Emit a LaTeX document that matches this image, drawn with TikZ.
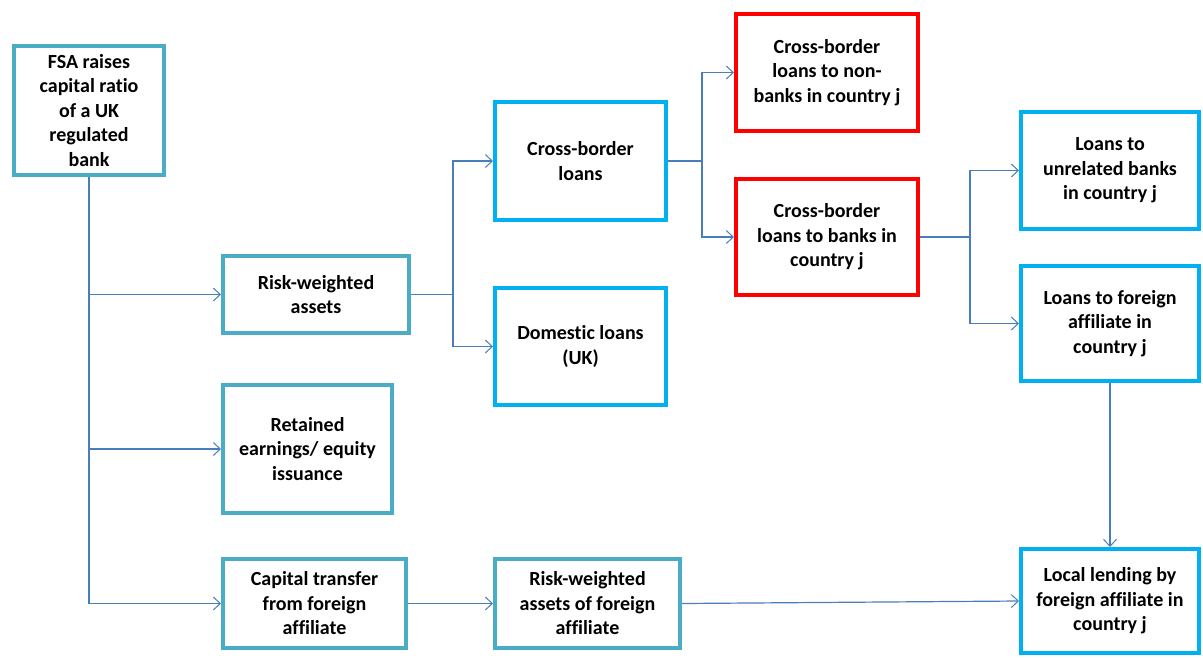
\documentclass[tikz,border=0pt]{standalone}
\usepackage{fontspec}
\setmainfont{Carlito}[RawFeature=-liga]
\usetikzlibrary{arrows.meta,calc}
\definecolor{tealb}{HTML}{4BACC6}
\definecolor{cyanb}{HTML}{00B0F0}
\definecolor{redb}{HTML}{FF0000}
\definecolor{conn}{HTML}{4A7EBB}
\begin{document}
\begin{tikzpicture}[x=1pt,y=-1pt,
  box/.style={draw,line width=4pt,fill=white,align=center,inner sep=2pt,
    font=\fontsize{20}{24.5}\selectfont\bfseries},
  tbox/.style={box,draw=tealb},
  cbox/.style={box,draw=cyanb},
  rbox/.style={box,draw=redb},
  arr/.style={draw=conn,line width=1.2pt,-{Straight Barb[length=7pt,width=13pt,line width=1pt]}},
  ln/.style={draw=conn,line width=1.2pt}]
\useasboundingbox (0,0) rectangle (1203,657);
\node[tbox,minimum width=150pt,minimum height=129pt] (fsa) at (89,110.5) {FSA raises\\capital ratio\\of a UK\\regulated\\bank};
\node[tbox,minimum width=186pt,minimum height=77pt] (rwa) at (316,294.5) {Risk-weighted\\assets};
\node[tbox,minimum width=169pt,minimum height=128pt] (ret) at (307.5,449) {Retained\\earnings/ equity\\issuance};
\node[tbox,minimum width=183pt,minimum height=89pt] (cap) at (314.5,603.5) {Capital transfer\\from foreign\\affiliate};
\node[tbox,minimum width=185pt,minimum height=89pt] (rwaf) at (587.5,603.5) {Risk-weighted\\assets of foreign\\affiliate};
\node[cbox,minimum width=171pt,minimum height=118pt] (cb) at (580.5,161) {Cross-border\\loans};
\node[cbox,minimum width=171pt,minimum height=117pt] (dom) at (580.5,346.5) {Domestic loans\\(UK)};
\node[rbox,minimum width=182pt,minimum height=117pt] (nb) at (827,72.5) {Cross-border\\loans to non-\\banks in country j};
\node[rbox,minimum width=182pt,minimum height=116pt] (bk) at (827,237) {Cross-border\\loans to banks in\\country j};
\node[cbox,minimum width=178pt,minimum height=117pt] (unr) at (1110,170.5) {Loans to\\unrelated banks\\in country j};
\node[cbox,minimum width=178pt,minimum height=115pt] (lfa) at (1110,323.5) {Loans to foreign\\affiliate in\\country j};
\node[cbox,minimum width=178pt,minimum height=104pt] (loc) at (1110,601) {Local lending by\\foreign affiliate in\\country j};
% connectors
\coordinate (f0) at (fsa.south);
\draw[arr] (f0) |- (rwa.west);
\draw[arr] (f0) |- (ret.west);
\draw[arr] (f0) |- (cap.west);
\coordinate (j1) at ($(rwa.east)+(42,0)$);
\draw[ln] (rwa.east) -- (j1);
\draw[arr] (j1) |- (cb.west);
\draw[arr] (j1) |- (dom.west);
\coordinate (j2) at ($(cb.east)+(34,0)$);
\draw[ln] (cb.east) -- (j2);
\draw[arr] (j2) |- (nb.west);
\draw[arr] (j2) |- (bk.west);
\coordinate (j3) at ($(bk.east)+(50,0)$);
\draw[ln] (bk.east) -- (j3);
\draw[arr] (j3) |- (unr.west);
\draw[arr] (j3) |- (lfa.west);
\draw[arr] (lfa.south) -- (loc.north);
\draw[arr] (cap.east) -- (rwaf.west);
\draw[arr] (rwaf.east) -- (loc.west);
\end{tikzpicture}
\end{document}
